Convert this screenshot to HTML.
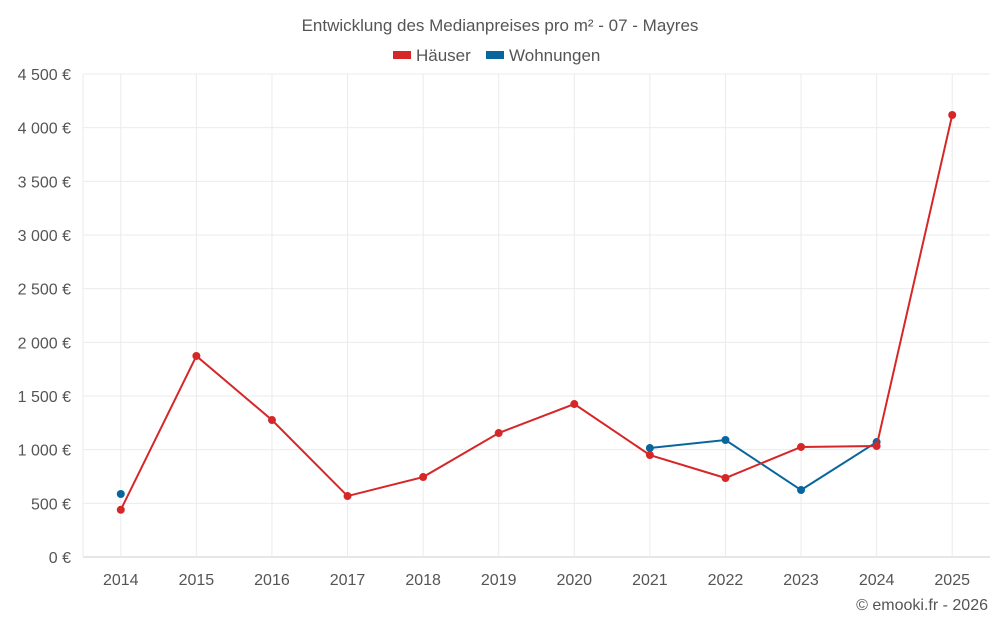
<!DOCTYPE html>
<html><head><meta charset="utf-8"><style>
body{margin:0;background:#fff;font-family:"Liberation Sans",sans-serif;}
svg text{font-family:"Liberation Sans",sans-serif;fill:#555;}
</style></head><body>
<svg width="1000" height="625" viewBox="0 0 1000 625">
<text x="500" y="31" text-anchor="middle" font-size="17">Entwicklung des Medianpreises pro m² - 07 - Mayres</text>
<g>
<g><rect x="393" y="51" width="18" height="8" fill="#d62728"/><text x="416" y="61" font-size="17">Häuser</text></g>
<g><rect x="486" y="51" width="18" height="8" fill="#08669c"/><text x="509" y="61" font-size="17">Wohnungen</text></g>
</g>
<g id="grid"></g><g id="axes"></g><g id="series"></g>
<text x="988" y="610" text-anchor="end" font-size="16">© emooki.fr - 2026</text>
</svg>
<script>
const years=["2014","2015","2016","2017","2018","2019","2020","2021","2022","2023","2024","2025"];
const haeuser=[440,1873,1276,568,745,1155,1425,950,736,1025,1034,4118];
const wohnungen=[587,null,null,null,null,null,null,1015,1090,624,1071,null];
const yTicks=[0,500,1000,1500,2000,2500,3000,3500,4000,4500];
const yTickLabels=["0 €","500 €","1 000 €","1 500 €","2 000 €","2 500 €","3 000 €","3 500 €","4 000 €","4 500 €"];
const NS="http://www.w3.org/2000/svg";
const L=83,R=990,T=74,B=557,maxV=4500;
const bw=(R-L)/years.length;
const x=i=>L+bw*(i+0.5);
const y=v=>B-(v/maxV)*(B-T);
function mk(p,t,a){const e=document.createElementNS(NS,t);for(const k in a)e.setAttribute(k,a[k]);document.getElementById(p).appendChild(e);return e;}
yTicks.forEach((v,i)=>{
 const g=mk("grid","line",{x1:L,x2:R,y1:y(v),y2:y(v),stroke:i==0?"#ccc":"#ebebeb"});
 
 
 const t=mk("axes","text",{x:71,y:y(v)+6,"text-anchor":"end","font-size":"16"});
 t.textContent=yTickLabels[i];
 
 
});
const la=mk("grid","line",{x1:L,x2:L,y1:T,y2:B,stroke:"#ebebeb"});


years.forEach((yr,i)=>{
 const g=mk("grid","line",{x1:x(i),x2:x(i),y1:T,y2:B,stroke:"#ebebeb"});
 
 
 const t=mk("axes","text",{x:x(i),y:585,"text-anchor":"middle","font-size":"16"});
 t.textContent=yr;
 
 
});
function series(vals,color,name){
 let d="",pen=false;
 vals.forEach((v,i)=>{if(v==null){pen=false;return;}d+=(pen?"L":"M")+x(i)+" "+y(v)+" ";pen=true;});
 const p=mk("series","path",{d:d,fill:"none",stroke:color,"stroke-width":2});
 
 
 vals.forEach((v,i)=>{if(v==null)return;
  const c=mk("series","circle",{cx:x(i),cy:y(v),r:4,fill:color});
  
  
 });
}
series(wohnungen,"#08669c","wohnungen");
series(haeuser,"#d62728","haeuser");
</script>
</body></html>
